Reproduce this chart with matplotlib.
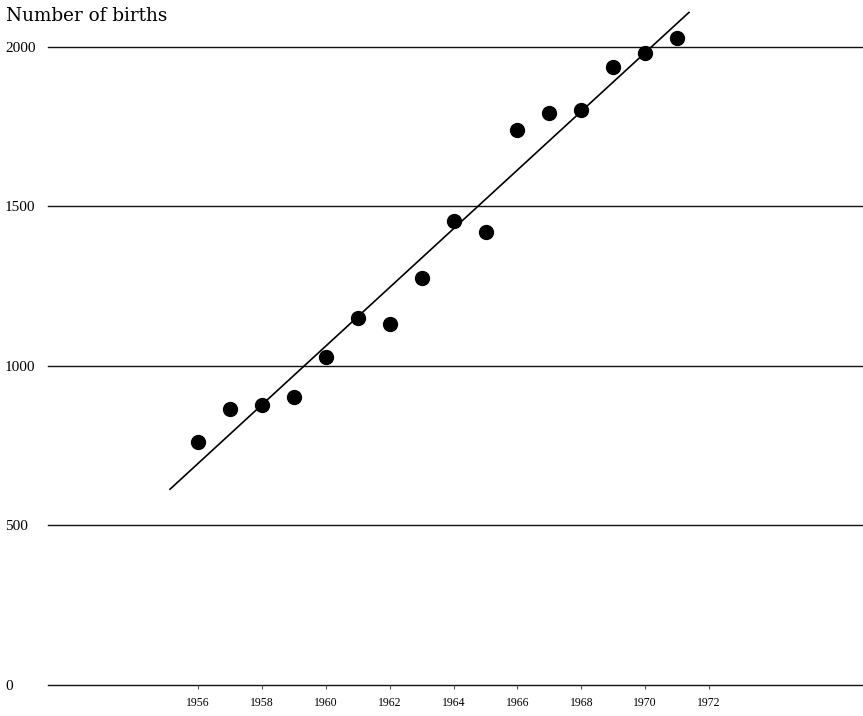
import numpy as np
import matplotlib
matplotlib.use("Agg")
import matplotlib.pyplot as plt
from matplotlib import font_manager

# Annual number of births
years = [1956, 1957, 1958, 1959, 1960, 1961, 1962, 1963,
         1964, 1965, 1966, 1967, 1968, 1969, 1970, 1971]
births = [763, 866, 879, 904, 1027, 1149, 1133, 1275,
          1454, 1419, 1739, 1793, 1802, 1937, 1981, 2028]

y_ticks = [0, 500, 1000, 1500, 2000]
x_ticks = [1956, 1958, 1960, 1962, 1964, 1966, 1968, 1970, 1972]

# span over which the fitted trend line is drawn
fit_span = (1955.12, 1971.37)


def pick_font(candidates):
    for name in candidates:
        try:
            font_manager.findfont(name, fallback_to_default=False)
            return name
        except ValueError:
            continue
    return "DejaVu Sans"


narrow = pick_font(["Liberation Sans Narrow", "Liberation Serif"])

W, H, DPI = 863, 716, 100
fig = plt.figure(figsize=(W / DPI, H / DPI), dpi=DPI)
fig.patch.set_facecolor("white")

left_px, bottom_px = 48, 31
ax = fig.add_axes([left_px / W, bottom_px / H, 1 - left_px / W, 1 - bottom_px / H])
ax.set_xlim(1951.3, 1976.82)
ax.set_ylim(0, 2147)

# horizontal reference lines
for v in y_ticks:
    ax.axhline(v, color="#111111", lw=1.0, zorder=1, clip_on=False)

# least-squares trend line
slope, intercept = np.polyfit(years, births, 1)
xs = np.array(fit_span)
ax.plot(xs, slope * xs + intercept, color="black", lw=1.2, zorder=2)

# data points
ax.plot(years, births, "o", color="black", markersize=10, zorder=3)

for s in ax.spines.values():
    s.set_visible(False)

ax.set_yticks(y_ticks)
ax.set_yticklabels([str(v) for v in y_ticks], fontfamily=narrow, fontsize=11,
                   ha="left")
ax.tick_params(axis="y", length=0, pad=31)

ax.set_xticks(x_ticks)
ax.set_xticklabels([str(v) for v in x_ticks], fontfamily=narrow, fontsize=8.5)
ax.tick_params(axis="x", length=3, width=0.8, color="#555555", pad=6,
               direction="out")

fig.text(6 / W, 1 - 16 / H, "Number of births", fontfamily="DejaVu Serif",
         fontsize=13.2, ha="left", va="center")

fig.savefig("out.png", dpi=DPI, facecolor="white")
